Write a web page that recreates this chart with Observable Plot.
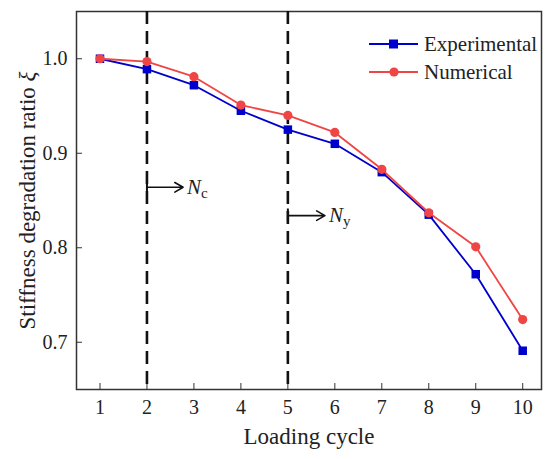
<!DOCTYPE html>
<html><head><meta charset="utf-8">
<script src="https://cdn.jsdelivr.net/npm/d3@7"></script>
<script src="https://cdn.jsdelivr.net/npm/@observablehq/plot@0.6"></script>
<style>body{margin:0;background:#fff}</style>
</head><body><div id="chart"></div>
<script>
const cycles = [1,2,3,4,5,6,7,8,9,10];
const experimental = [1.0,0.989,0.972,0.945,0.925,0.910,0.880,0.835,0.772,0.691];
const numerical = [1.0,0.997,0.981,0.951,0.940,0.922,0.883,0.837,0.801,0.724];
const seriesNames = ["Experimental","Numerical"];
const seriesColors = ["#0000cc","#f04545"];
const markers = [cycles[1], cycles[4]];            // N_c at 2, N_y at 5
const arrowY = [0.864, 0.834];
const arrowEnd = [2.77, 5.79];
const arrowSub = ["c","y"];
const xTicks = cycles;
const yTicks = [0.7,0.8,0.9,1.0];

const exp = cycles.map((c,i)=>({x:c,y:experimental[i]}));
const num = cycles.map((c,i)=>({x:c,y:numerical[i]}));
const arrows = markers.map((m,i)=>({x1:m,x2:arrowEnd[i],y:arrowY[i],sub:arrowSub[i]}));

const font = "Liberation Serif";
const plot = Plot.plot({
  width:548, height:459,
  marginLeft:76, marginRight:7, marginTop:11, marginBottom:70,
  style:{fontFamily:font, fontSize:"20px", color:"#222", background:"#fff"},
  x:{domain:[0.5,10.4]},
  y:{domain:[0.65,1.05]},
  marks:[
    Plot.frame({stroke:"#333", strokeWidth:1.5}),
    Plot.axisX({ticks:xTicks, tickSize:-6, tickPadding:16, tickFormat:d=>String(d), label:null, fontSize:20, stroke:"#333"}),
    Plot.axisY({ticks:yTicks, tickSize:-6, tickPadding:15, tickFormat:d=>d.toFixed(1), label:null, fontSize:20, stroke:"#333"}),
    Plot.ruleX(markers, {stroke:"#111", strokeWidth:2.6, strokeDasharray:"13,7"}),
    Plot.arrow(arrows, {x1:"x1", x2:"x2", y1:"y", y2:"y", stroke:"#111", strokeWidth:1.6, headLength:9, bend:0}),
    Plot.ruleX(arrows, {x:"x1", y1:d=>d.y-0.007, y2:d=>d.y+0.007, stroke:"#111", strokeWidth:2}),
    Plot.text(arrows, {x:"x2", y:"y", text:()=>"N", dx:4, textAnchor:"start", fontStyle:"italic", fontSize:21, fill:"#222"}),
    Plot.text(arrows, {x:"x2", y:"y", text:"sub", dx:18, dy:6, textAnchor:"start", fontSize:15, fill:"#222"}),
    Plot.line(exp, {x:"x", y:"y", stroke:seriesColors[0], strokeWidth:1.8}),
    Plot.dot(exp, {x:"x", y:"y", symbol:"square", r:4.8, fill:seriesColors[0]}),
    Plot.line(num, {x:"x", y:"y", stroke:seriesColors[1], strokeWidth:1.8}),
    Plot.dot(num, {x:"x", y:"y", r:4.6, fill:seriesColors[1]}),
    Plot.text(["Loading cycle"], {frameAnchor:"bottom", dy:54, text:d=>d, fontSize:23, fill:"#222"}),
    Plot.text(["Stiffness degradation ratio "], {frameAnchor:"left", dx:-49, rotate:-90, textAnchor:"middle", text:d=>d, fontSize:23, fill:"#222"})
  ]
});
document.getElementById("chart").appendChild(plot);

const svg = d3.select(plot);
const yl = svg.selectAll("text").filter(function(){return this.textContent.startsWith("Stiffness");});
yl.append("tspan").attr("font-style","italic").text("ξ");

const lg = svg.append("g").attr("font-size",21).attr("text-anchor","start");
seriesNames.forEach((n,i)=>{
  const cy = 44 + i*28;
  lg.append("line").attr("x1",369).attr("x2",418).attr("y1",cy).attr("y2",cy).attr("stroke",seriesColors[i]).attr("stroke-width",1.8);
  if(i===0) lg.append("rect").attr("x",389).attr("y",cy-4.5).attr("width",9).attr("height",9).attr("fill",seriesColors[i]);
  else lg.append("circle").attr("cx",394).attr("cy",cy).attr("r",4.6).attr("fill",seriesColors[i]);
  lg.append("text").attr("x",424).attr("y",cy).attr("dy","0.35em").attr("fill","#222").text(n);
});
svg.selectAll("text").style("font-family","'Liberation Serif', serif");
</script>
</body></html>
